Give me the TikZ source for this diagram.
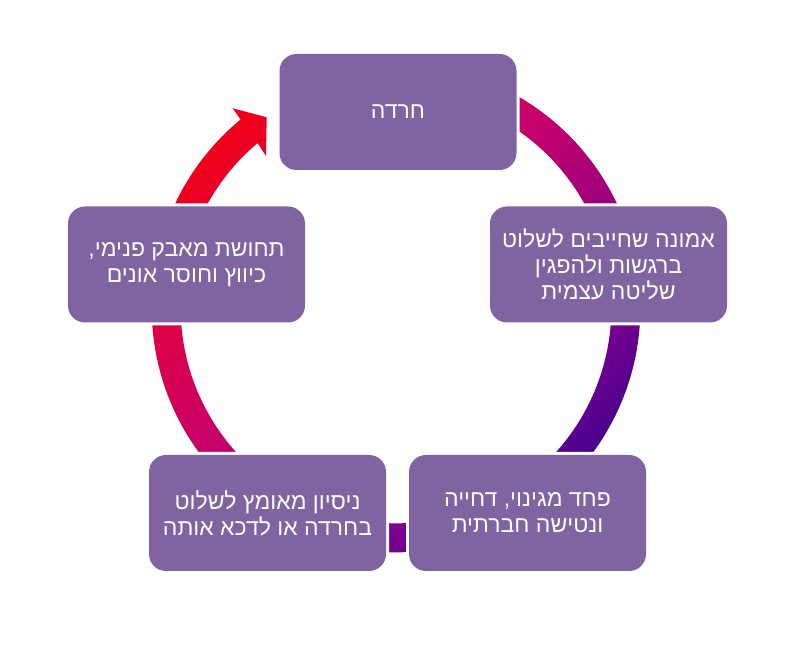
\documentclass[tikz,border=0pt]{standalone}
\usepackage{fontspec}
\usetikzlibrary{calc}
\newfontfamily\heb[Script=Hebrew]{Liberation Sans}
\TeXXeTstate=1
\newcommand{\hebline}[1]{\beginR #1\endR}
\definecolor{boxc}{HTML}{8064A2}
\definecolor{gI}{HTML}{48008F}
\definecolor{gP}{HTML}{78008F}
\definecolor{gM}{HTML}{C8006A}
\definecolor{gC}{HTML}{E00040}
\definecolor{gR}{HTML}{F00018}
\pgfdeclareverticalshading{ringgrad}{100bp}{color(0bp)=(gI); color(25bp)=(gI); color(33bp)=(gP); color(54bp)=(gM); color(67bp)=(gC); color(75bp)=(gR); color(100bp)=(gR)}
\tikzset{
  box/.style={rounded corners=17pt, fill=boxc, minimum width=237pt, minimum height=116pt,
    text=white, font=\heb\fontsize{23}{26}\selectfont, align=center, inner sep=0pt,
    preaction={draw=white, line width=6pt}}
}
\begin{document}
\begin{tikzpicture}[x=1pt,y=1pt]
\useasboundingbox (0,0) rectangle (800,650);
\fill[white] (0,0) rectangle (800,650);
\coordinate (c) at (396,342);
\begin{scope}
  \clip[shift={(396,342)}]
    (100:244.3pt) arc[start angle=100,end angle=-200,radius=244.3pt]
    -- (-200:215.3pt) arc[start angle=-200,end angle=100,radius=215.3pt] -- cycle
    (160:244.3pt) arc[start angle=160,end angle=129.5,radius=244.3pt]
    -- (-163.3,199.7) -- (-129.3,190.7) -- (-130,152) -- (130:215.3pt)
    arc[start angle=130,end angle=160,radius=215.3pt] -- cycle;
  \shade[shading=ringgrad, shading angle=45] ($(c)+(-244.3,-244.3)$) rectangle ($(c)+(244.3,244.3)$);
\end{scope}
\node[box] (top) at (398,538) {\hebline{חרדה}};
\node[box] (right) at (608.5,385.5) {\hebline{אמונה שחייבים לשלוט}\\\hebline{ברגשות ולהפגין}\\\hebline{שליטה עצמית}};
\node[box] (br) at (527.5,137) {\hebline{פחד מגינוי, דחייה}\\\hebline{ונטישה חברתית}};
\node[box] (bl) at (267.5,137) {\hebline{ניסיון מאומץ לשלוט}\\\hebline{בחרדה או לדכא אותה}};
\node[box] (left) at (186.5,385.5) {\hebline{תחושת מאבק פנימי,}\\\hebline{כיווץ וחוסר אונים}};
\end{tikzpicture}
\end{document}
